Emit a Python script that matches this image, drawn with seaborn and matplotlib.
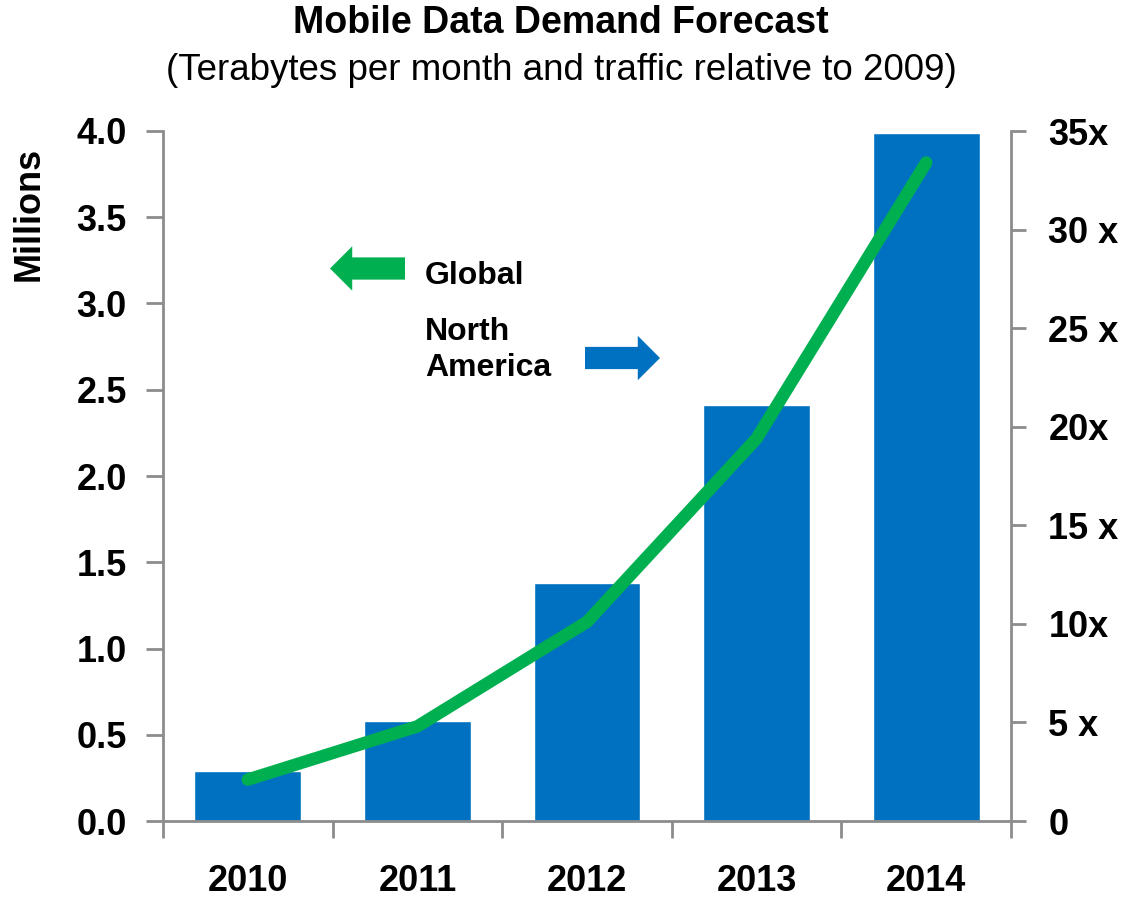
import numpy as np
import pandas as pd
import matplotlib
matplotlib.use("Agg")
import matplotlib.pyplot as plt
import seaborn as sns
from matplotlib.ticker import FixedLocator

# ---- data ----
years = ["2010", "2011", "2012", "2013", "2014"]
north_america_tb_millions = [0.29, 0.58, 1.38, 2.41, 3.99]
global_relative_to_2009 = [2.1, 4.8, 10.1, 19.4, 33.4]
left_ticks = [0.0, 0.5, 1.0, 1.5, 2.0, 2.5, 3.0, 3.5, 4.0]
right_ticks = [0, 5, 10, 15, 20, 25, 30, 35]
right_labels = ["0", "5 x", "10x", "15 x", "20x", "25 x", "30 x", "35x"]

BLUE = "#0070C0"
GREEN = "#00B050"
GRAY = "#8C8C8C"

sns.set_theme(style="white")
plt.rcParams["font.family"] = ["Liberation Sans", "DejaVu Sans"]

TICK_FS = 26

fig = plt.figure(figsize=(11.22, 8.97), dpi=100)
ax = fig.add_axes([163 / 1122, 1 - 821 / 897, 848 / 1122, 690 / 897])

df = pd.DataFrame({"year": years, "value": north_america_tb_millions})
sns.barplot(data=df, x="year", y="value", color=BLUE, saturation=1,
            width=0.63, ax=ax, zorder=2)
ax.set_xlim(-0.5, len(years) - 0.5)
ax.set_ylim(0, 4.0)
ax.set_xlabel("")
ax.set_ylabel("")

ax2 = ax.twinx()
ldf = pd.DataFrame({"pos": np.arange(len(years)), "rel": global_relative_to_2009})
sns.lineplot(data=ldf, x="pos", y="rel", color=GREEN, linewidth=9,
             ax=ax2, solid_capstyle="round")
ax2.set_ylim(0, 35)
ax2.set_xlim(-0.5, len(years) - 0.5)
ax2.set_xlabel("")
ax2.set_ylabel("")

# spines
for a in (ax, ax2):
    a.spines["top"].set_visible(False)
    for s in ("left", "right", "bottom"):
        a.spines[s].set_color(GRAY)
        a.spines[s].set_linewidth(2)
ax.spines["right"].set_visible(False)
ax2.spines["left"].set_visible(False)
ax2.spines["bottom"].set_visible(False)

# left axis ticks
ax.yaxis.set_major_locator(FixedLocator(left_ticks))
ax.set_yticklabels([f"{v:.1f}" for v in left_ticks])
ax.tick_params(axis="y", which="major", direction="out", length=12, width=2,
               color=GRAY, labelsize=TICK_FS, labelcolor="black", pad=14, left=True)
for t in ax.get_yticklabels():
    t.set_fontweight("bold")

# x axis: labels at categories, tick marks between
ax.set_xticks(np.arange(len(years)))
ax.set_xticklabels(years)
ax.set_xticks(np.arange(-0.5, len(years)), minor=True)
ax.tick_params(axis="x", which="major", length=0, labelsize=TICK_FS,
               labelcolor="black", pad=31)
ax.tick_params(axis="x", which="minor", direction="out", length=12, width=2,
               color=GRAY, bottom=True)
for t in ax.get_xticklabels():
    t.set_fontweight("bold")

# right axis ticks
ax2.yaxis.set_major_locator(FixedLocator(right_ticks))
ax2.set_yticklabels(right_labels)
ax2.tick_params(axis="y", which="major", direction="out", length=11, width=2,
                color=GRAY, labelsize=TICK_FS, labelcolor="black", pad=16, right=True)
for t in ax2.get_yticklabels():
    t.set_fontweight("bold")

H = 897
# y label
fig.text(29 / 1122, 1 - 214 / H, "Millions", rotation=90, ha="center",
         va="center", fontsize=26, fontweight="bold", color="black")

# titles
fig.text(0.5, 1 - 23 / H, "Mobile Data Demand Forecast", ha="center",
         va="center", fontsize=27, fontweight="bold", color="black")
fig.text(0.5, 1 - 70 / H, "(Terabytes per month and traffic relative to 2009)",
         ha="center", va="center", fontsize=26.5, color="black")

# legend-like arrows and labels
ax.annotate("", xy=(330, H - 268.5), xytext=(405, H - 268.5),
            xycoords="figure pixels", textcoords="figure pixels",
            arrowprops=dict(arrowstyle="simple,head_length=1.0,head_width=2.0,tail_width=1.0",
                            color=GREEN, shrinkA=0, shrinkB=0, mutation_scale=16,
                            lw=0))
ax.annotate("", xy=(660, H - 358), xytext=(585, H - 358),
            xycoords="figure pixels", textcoords="figure pixels",
            arrowprops=dict(arrowstyle="simple,head_length=1.0,head_width=2.0,tail_width=1.0",
                            color=BLUE, shrinkA=0, shrinkB=0, mutation_scale=16,
                            lw=0))
fig.text(425 / 1122, 1 - 276 / H, "Global", ha="left", va="center",
         fontsize=23, fontweight="bold", color="black")
fig.text(425 / 1122, 1 - 350 / H, "North\nAmerica", ha="left", va="center",
         fontsize=23, fontweight="bold", color="black", linespacing=1.25)

fig.savefig("out.png", dpi=100)
